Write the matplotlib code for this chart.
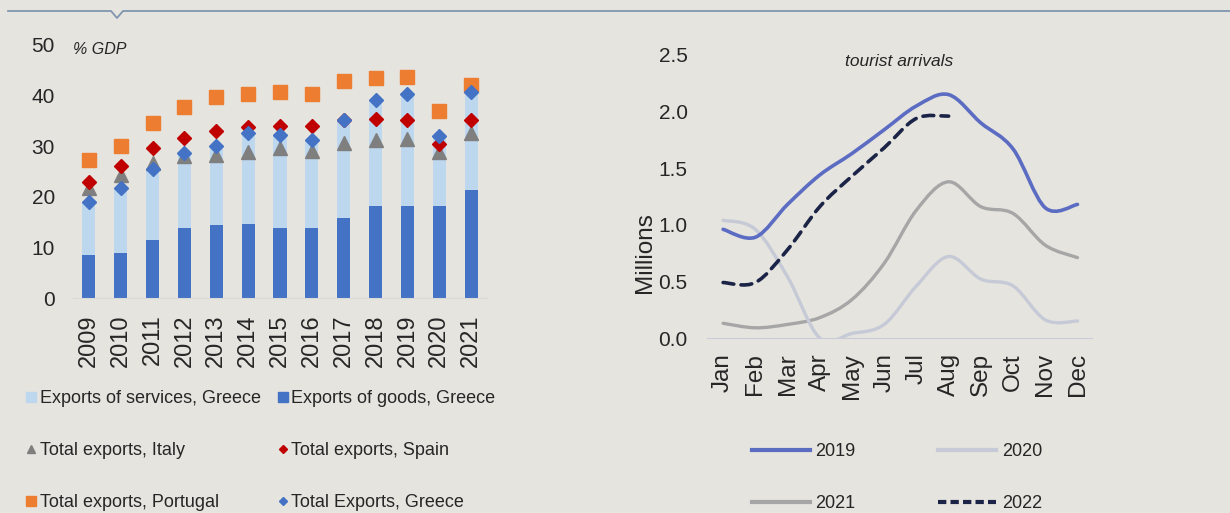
import numpy as np
import matplotlib
matplotlib.use("Agg")
import matplotlib.pyplot as plt
from matplotlib.path import Path
from matplotlib.patches import PathPatch
from matplotlib.lines import Line2D

plt.rcParams["font.family"] = ["Liberation Sans", "DejaVu Sans"]

# Left panel: exports, % GDP
years = ["2009", "2010", "2011", "2012", "2013", "2014", "2015",
         "2016", "2017", "2018", "2019", "2020", "2021"]
goods_gr = [8.4, 8.9, 11.4, 13.9, 14.5, 14.7, 13.9, 13.9, 15.8, 18.1, 18.1, 18.1, 21.3]
total_gr = [18.9, 21.7, 25.5, 28.6, 30.1, 32.6, 32.2, 31.3, 35.2, 39.1, 40.3, 32.0, 40.8]
services_gr = [t - g for t, g in zip(total_gr, goods_gr)]
total_it = [21.7, 24.3, 26.6, 28.0, 28.3, 28.9, 29.6, 29.1, 30.6, 31.3, 31.4, 28.9, 32.6]
total_es = [23.0, 26.1, 29.6, 31.6, 33.1, 33.8, 33.9, 34.0, 35.2, 35.3, 35.1, 30.5, 35.1]
total_pt = [27.2, 30.1, 34.5, 37.8, 39.7, 40.3, 40.7, 40.3, 42.9, 43.4, 43.6, 37.0, 42.1]

# Right panel: tourist arrivals, millions
months = ["Jan", "Feb", "Mar", "Apr", "May", "Jun", "Jul", "Aug", "Sep", "Oct", "Nov", "Dec"]
arr_2019 = [0.96, 0.89, 1.18, 1.44, 1.63, 1.84, 2.05, 2.15, 1.90, 1.67, 1.15, 1.18]
arr_2020 = [1.04, 0.96, 0.54, 0.0, 0.04, 0.12, 0.46, 0.72, 0.52, 0.46, 0.16, 0.15]
arr_2021 = [0.13, 0.09, 0.12, 0.18, 0.34, 0.66, 1.13, 1.38, 1.16, 1.10, 0.82, 0.71]
arr_2022 = [0.49, 0.49, 0.78, 1.16, 1.43, 1.68, 1.94, 1.96]

bg = "#e5e4df"
txt = "#262626"
c_goods = "#4472c4"
c_serv = "#bdd7ee"


def smooth_line(ax, x, y, **kw):
    # smoothed line like a spreadsheet "smoothed line" (Catmull-Rom as Bezier)
    pts = np.column_stack([x, y]).astype(float)
    n = len(pts)
    verts = [pts[0]]
    codes = [Path.MOVETO]
    for i in range(n - 1):
        p0 = pts[max(i - 1, 0)]
        p1 = pts[i]
        p2 = pts[i + 1]
        p3 = pts[min(i + 2, n - 1)]
        verts += [p1 + (p2 - p0) / 6, p2 - (p3 - p1) / 6, p2]
        codes += [Path.CURVE4] * 3
    patch = PathPatch(Path(verts, codes), fill=False, capstyle="round", **kw)
    ax.add_patch(patch)


fig = plt.figure(figsize=(12.3, 5.13), dpi=100, facecolor=bg)

# decorative header line with notch
fig.add_artist(Line2D([8 / 1230, 111 / 1230, 117 / 1230, 123 / 1230, 1.0],
                      [1 - 11 / 513, 1 - 11 / 513, 1 - 18 / 513, 1 - 11 / 513, 1 - 11 / 513],
                      transform=fig.transFigure, color="#8096b0", lw=1.3))

# ---------- left chart ----------
ax1 = fig.add_axes([73 / 1230, 215 / 513, 414 / 1230, 253 / 513])
ax1.set_facecolor(bg)
x = np.arange(len(years))
ax1.bar(x, goods_gr, width=0.41, color=c_goods, label="Exports of goods, Greece", zorder=2)
ax1.bar(x, services_gr, width=0.41, bottom=goods_gr, color=c_serv,
        label="Exports of services, Greece", zorder=2)
ax1.plot(x, total_it, "^", color="#7f7f7f", ms=10, ls="none", label="Total exports, Italy", zorder=3)
ax1.plot(x, total_es, "D", color="#c00000", ms=7.5, ls="none", label="Total exports, Spain", zorder=4)
ax1.plot(x, total_pt, "s", color="#ed7d31", ms=10, ls="none", label="Total exports, Portugal", zorder=3)
ax1.plot(x, total_gr, "D", color="#4472c4", ms=7, ls="none", label="Total Exports, Greece", zorder=5)

ax1.set_xlim(-0.5, len(years) - 0.5)
ax1.set_ylim(0, 50)
ax1.set_yticks(range(0, 51, 10))
ax1.set_xticks(x)
ax1.set_xticklabels(years, rotation=90)
ax1.tick_params(axis="y", length=0, pad=13, labelsize=15, labelcolor=txt)
ax1.tick_params(axis="x", length=0, pad=12, labelsize=17, labelcolor=txt)
for s in ["top", "right", "left"]:
    ax1.spines[s].set_visible(False)
ax1.spines["bottom"].set_color("#d9d9d9")
ax1.text(0.0, 1.0 - 4 / 253, "% GDP", transform=ax1.transAxes, fontsize=11.5,
         style="italic", color=txt, va="center", ha="left")

order = ["Exports of services, Greece", "Total exports, Italy", "Total exports, Portugal",
         "Exports of goods, Greece", "Total exports, Spain", "Total Exports, Greece"]
leg_handles = [
    Line2D([], [], marker="s", color=c_serv, ls="none", ms=7),
    Line2D([], [], marker="^", color="#7f7f7f", ls="none", ms=6),
    Line2D([], [], marker="s", color="#ed7d31", ls="none", ms=7),
    Line2D([], [], marker="s", color=c_goods, ls="none", ms=7),
    Line2D([], [], marker="D", color="#c00000", ls="none", ms=4.5),
    Line2D([], [], marker="D", color="#4472c4", ls="none", ms=4.5),
]
fig.legend(leg_handles, order, ncol=2, loc="upper left",
           bbox_to_anchor=(26 / 1230, 1 - 390 / 513), frameon=False,
           fontsize=13, labelcolor=txt, handlelength=0.6, handletextpad=0.15,
           columnspacing=0.95, labelspacing=1.95, borderaxespad=0, borderpad=0)

# ---------- right chart ----------
ax2 = fig.add_axes([707 / 1230, 175 / 513, 385 / 1230, 283 / 513])
ax2.set_facecolor(bg)
mx = np.arange(len(months))
smooth_line(ax2, mx, arr_2021, edgecolor="#a6a6a6", lw=2.4, zorder=2)
smooth_line(ax2, mx, arr_2020, edgecolor="#c6cad6", lw=2.4, zorder=2)
smooth_line(ax2, mx, arr_2019, edgecolor="#5b6cc2", lw=2.6, zorder=3)
smooth_line(ax2, mx[:len(arr_2022)], arr_2022, edgecolor="#1b2447", lw=2.6,
            linestyle=(0, (3, 2)), zorder=4)
ax2.set_xlim(-0.5, 11.45)
ax2.set_ylim(0, 2.5)
ax2.set_yticks(np.arange(0, 2.51, 0.5))
ax2.set_yticklabels([f"{v:.1f}" for v in np.arange(0, 2.51, 0.5)])
ax2.set_xticks(mx)
ax2.set_xticklabels(months, rotation=90)
ax2.tick_params(axis="y", length=0, pad=14, labelsize=15, labelcolor=txt)
ax2.tick_params(axis="x", length=0, pad=11, labelsize=17.5, labelcolor=txt)
for s in ["top", "right", "left"]:
    ax2.spines[s].set_visible(False)
ax2.spines["bottom"].set_color("#c9cdd8")
ax2.text(0.5, 1.0 - 7 / 283, "tourist arrivals", transform=ax2.transAxes, fontsize=12.5,
         style="italic", color=txt, ha="center", va="center")
fig.text(645 / 1230, 1 - 253 / 513, "Millions", rotation=90, fontsize=17.5, color=txt,
         ha="center", va="center")

leg2_handles = [
    Line2D([], [], color="#5b6cc2", lw=3),
    Line2D([], [], color="#a6a6a6", lw=3),
    Line2D([], [], color="#c6cad6", lw=3),
    Line2D([], [], color="#1b2447", lw=3, ls=(0, (2, 1))),
]
fig.legend(leg2_handles, ["2019", "2021", "2020", "2022"], ncol=2, loc="upper left",
           bbox_to_anchor=(752 / 1230, 1 - 443 / 513), frameon=False, fontsize=13,
           labelcolor=txt, handlelength=3.2, handletextpad=0.3, columnspacing=4.6,
           labelspacing=1.95, borderaxespad=0, borderpad=0)

fig.savefig("out.png", dpi=100, facecolor=bg)
